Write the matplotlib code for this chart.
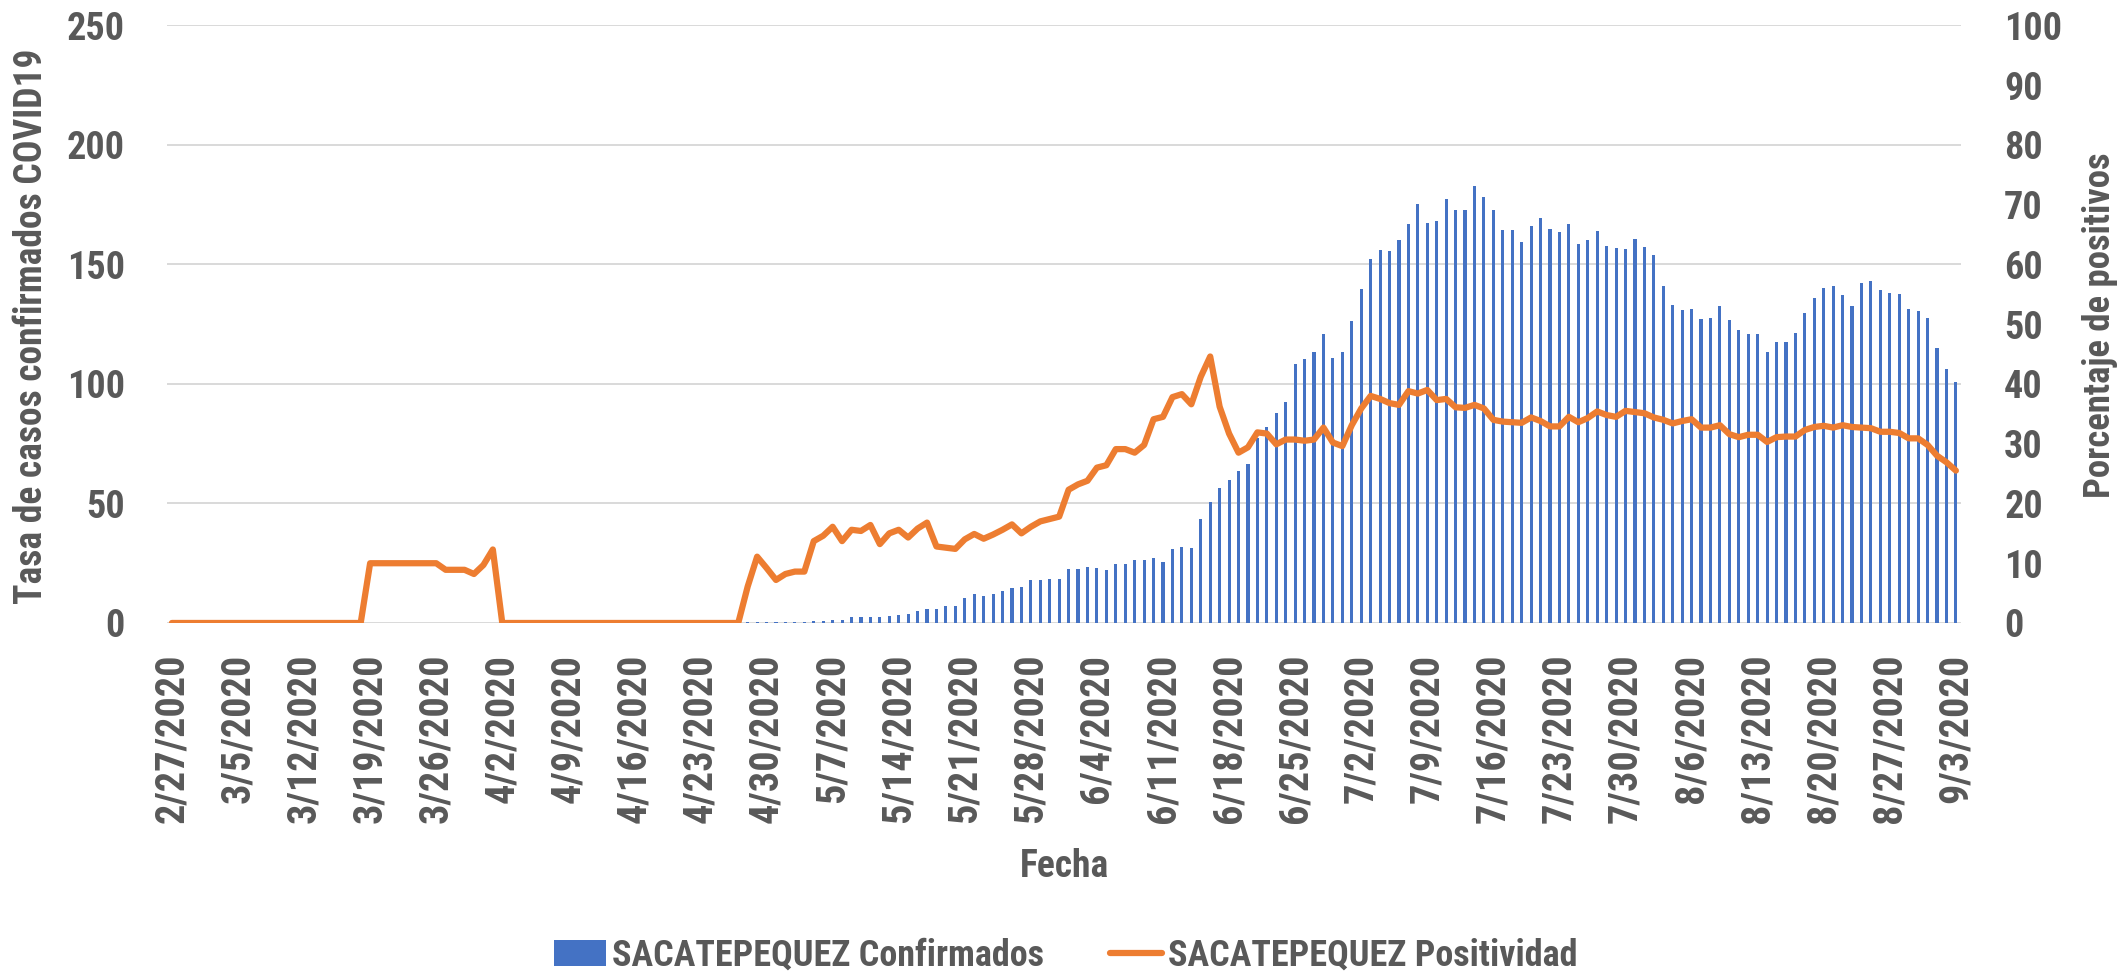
"""Sacatepequez: confirmed-case rate (bars) and test positivity (line), 2/27 - 9/3/2020."""
import pandas as pd
import matplotlib
matplotlib.use("Agg")
import matplotlib.pyplot as plt
from matplotlib import font_manager as fm

BLUE = "#4472C4"
ORANGE = "#ED7D31"
INK = "#595959"
GRID = "#D9D9D9"

# one value per day, one week per row
dates = pd.date_range("2020-02-27", "2020-09-03", freq="D")

confirmados = [
    0, 0, 0, 0, 0, 0, 0,
    0, 0, 0, 0, 0, 0, 0,
    0, 0, 0, 0, 0, 0, 0,
    0, 0, 0, 0, 0, 0, 0,
    0, 0, 0, 0, 0, 0, 0,
    0, 0, 0, 0, 0, 0, 0,
    0, 0, 0, 0, 0, 0, 0,
    0, 0, 0, 0, 0, 0, 0,
    0, 0, 0, 0, 0, 0.3, 0.3,
    0.3, 0.3, 0.3, 0.3, 0.3, 0.8, 1.0,
    1.4, 1.4, 2.7, 2.7, 2.7, 2.7, 3.0,
    3.2, 3.8, 4.9, 6.0, 6.0, 7.3, 7.3,
    10.3, 12.0, 11.3, 12.0, 13.2, 14.8, 15.0,
    17.8, 18.1, 18.4, 18.4, 22.5, 22.5, 23.6,
    22.9, 22.2, 24.5, 24.5, 26.2, 26.2, 27.2,
    25.7, 31.0, 31.7, 31.2, 43.6, 50.6, 56.6,
    59.8, 63.6, 66.7, 77.3, 82.0, 88.0, 92.6,
    108.4, 110.5, 113.3, 120.8, 111.0, 113.4, 126.5,
    139.7, 152.4, 156.1, 155.5, 160.1, 166.8, 175.2,
    167.2, 168.3, 177.4, 172.7, 172.7, 182.7, 178.2,
    172.7, 164.3, 164.3, 159.5, 166.2, 169.6, 164.7,
    163.6, 167.1, 158.4, 160.1, 164.0, 157.7, 156.9,
    156.6, 160.7, 157.2, 154.0, 141.1, 133.1, 131.0,
    131.4, 127.1, 127.6, 132.8, 126.8, 122.6, 121.1,
    121.1, 113.5, 117.4, 117.7, 121.2, 129.8, 135.8,
    140.3, 141.0, 137.4, 132.8, 142.1, 143.2, 139.2,
    137.9, 137.5, 131.3, 130.4, 127.7, 115.2, 106.3,
    101.0,
]

positividad = [
    0, 0, 0, 0, 0, 0, 0,
    0, 0, 0, 0, 0, 0, 0,
    0, 0, 0, 0, 0, 0, 0,
    10, 10, 10, 10, 10, 10, 10,
    10, 8.9, 8.9, 8.9, 8.2, 9.7, 12.3,
    0, 0, 0, 0, 0, 0, 0,
    0, 0, 0, 0, 0, 0, 0,
    0, 0, 0, 0, 0, 0, 0,
    0, 0, 0, 0, 0, 6.1, 11.1,
    9.2, 7.2, 8.2, 8.6, 8.6, 13.7, 14.6,
    16.1, 13.7, 15.6, 15.4, 16.4, 13.2, 15.0,
    15.6, 14.3, 15.8, 16.8, 12.8, 12.6, 12.4,
    14.0, 14.9, 14.1, 14.8, 15.6, 16.5, 15.0,
    16.1, 17.0, 17.4, 17.8, 22.3, 23.2, 23.8,
    26.0, 26.4, 29.1, 29.1, 28.5, 29.8, 34.1,
    34.5, 37.8, 38.3, 36.6, 41.2, 44.6, 36.2,
    31.7, 28.5, 29.4, 31.9, 31.7, 29.9, 30.7,
    30.7, 30.5, 30.7, 32.7, 30.2, 29.6, 33.1,
    35.9, 38.0, 37.5, 36.8, 36.5, 38.8, 38.4,
    39.0, 37.3, 37.5, 36.1, 36.0, 36.5, 35.9,
    34.0, 33.7, 33.6, 33.5, 34.4, 33.8, 32.9,
    32.9, 34.5, 33.6, 34.3, 35.4, 34.8, 34.5,
    35.5, 35.3, 35.1, 34.4, 34.0, 33.4, 33.8,
    34.1, 32.7, 32.7, 33.1, 31.6, 31.1, 31.5,
    31.5, 30.3, 31.1, 31.2, 31.2, 32.3, 32.8,
    33.0, 32.7, 33.1, 32.8, 32.7, 32.6, 32.0,
    32.0, 31.8, 30.9, 30.9, 29.8, 28.0, 26.9,
    25.5,
]

left_ticks = [0, 50, 100, 150, 200, 250]
right_ticks = list(range(0, 101, 10))
tick_labels = [f"{d.month}/{d.day}/{d.year}" for d in dates]


def pick_font():
    """Return (family, stretch, scale): a bold condensed face if one is installed."""
    fonts = fm.fontManager.ttflist
    names = {f.name for f in fonts}
    for fam in ["Roboto Condensed", "Liberation Sans Narrow", "Open Sans Condensed",
                "DejaVu Sans Condensed"]:
        if fam in names:
            return fam, "normal", 1.0
    for fam in ["DejaVu Sans", "Noto Sans", "Open Sans"]:
        if any(f.name == fam and str(f.stretch) in ("condensed", "semi-condensed")
               for f in fonts):
            return fam, "condensed", 0.92
    # nothing narrow: plain Arial-like face, a bit smaller to keep lengths
    return "Liberation Sans", "normal", 0.82


def main():
    family, stretch, k = pick_font()
    plt.rcParams["font.family"] = [family, "DejaVu Sans"]
    plt.rcParams["font.stretch"] = stretch
    plt.rcParams["font.weight"] = "bold"
    plt.rcParams["axes.labelweight"] = "bold"

    fig = plt.figure(figsize=(21.21, 9.76), dpi=100)
    ax1 = fig.add_axes([0.0786, 0.3617, 0.8460, 0.6122])
    ax2 = ax1.twinx()

    x = list(range(len(dates)))

    bars = ax1.bar(x, confirmados, width=0.33, color=BLUE, linewidth=0, zorder=2)
    (line,) = ax2.plot(x, positividad, color=ORANGE, linewidth=4.5,
                       solid_joinstyle="round", solid_capstyle="round")

    ax1.set_xlim(-0.55, len(dates) - 0.45)
    ax1.set_ylim(0, 250)
    ax2.set_ylim(0, 100)
    ax1.set_yticks(left_ticks)
    ax2.set_yticks(right_ticks)

    # weekly date labels
    ax1.set_xticks(x[::7])
    ax1.set_xticklabels(tick_labels[::7], rotation=90)

    ax1.grid(axis="y", color=GRID, linewidth=1.4)
    ax1.set_axisbelow(True)

    for ax in (ax1, ax2):
        for s in ax.spines.values():
            s.set_visible(False)
    ax1.tick_params(axis="x", length=0, pad=22, labelsize=29 * k, labelcolor=INK)
    ax1.tick_params(axis="y", length=0, pad=30, labelsize=27.5 * k, labelcolor=INK)
    ax2.tick_params(axis="y", length=0, pad=31, labelsize=27.5 * k, labelcolor=INK)

    fig.text(0.0150, 0.6655, "Tasa de casos confirmados COVID19", rotation=90,
             ha="center", va="center", fontsize=27 * k, color=INK)
    fig.text(0.9900, 0.6670, "Porcentaje de positivos", rotation=90,
             ha="center", va="center", fontsize=26.5 * k, color=INK)
    fig.text(0.5017, 0.1127, "Fecha", ha="center", va="center",
             fontsize=27 * k, color=INK)

    leg = fig.legend(
        [bars, line],
        ["SACATEPEQUEZ Confirmados", "SACATEPEQUEZ Positividad"],
        loc="center", bbox_to_anchor=(0.5025, 0.0205), ncol=2, frameon=False,
        fontsize=26 * k, handlelength=1.43 / k, handleheight=0.72 / k,
        handletextpad=0.17 / k, columnspacing=1.85 / k, borderpad=0,
    )
    for t in leg.get_texts():
        t.set_color(INK)

    fig.savefig("out.png", dpi=100)


if __name__ == "__main__":
    main()
